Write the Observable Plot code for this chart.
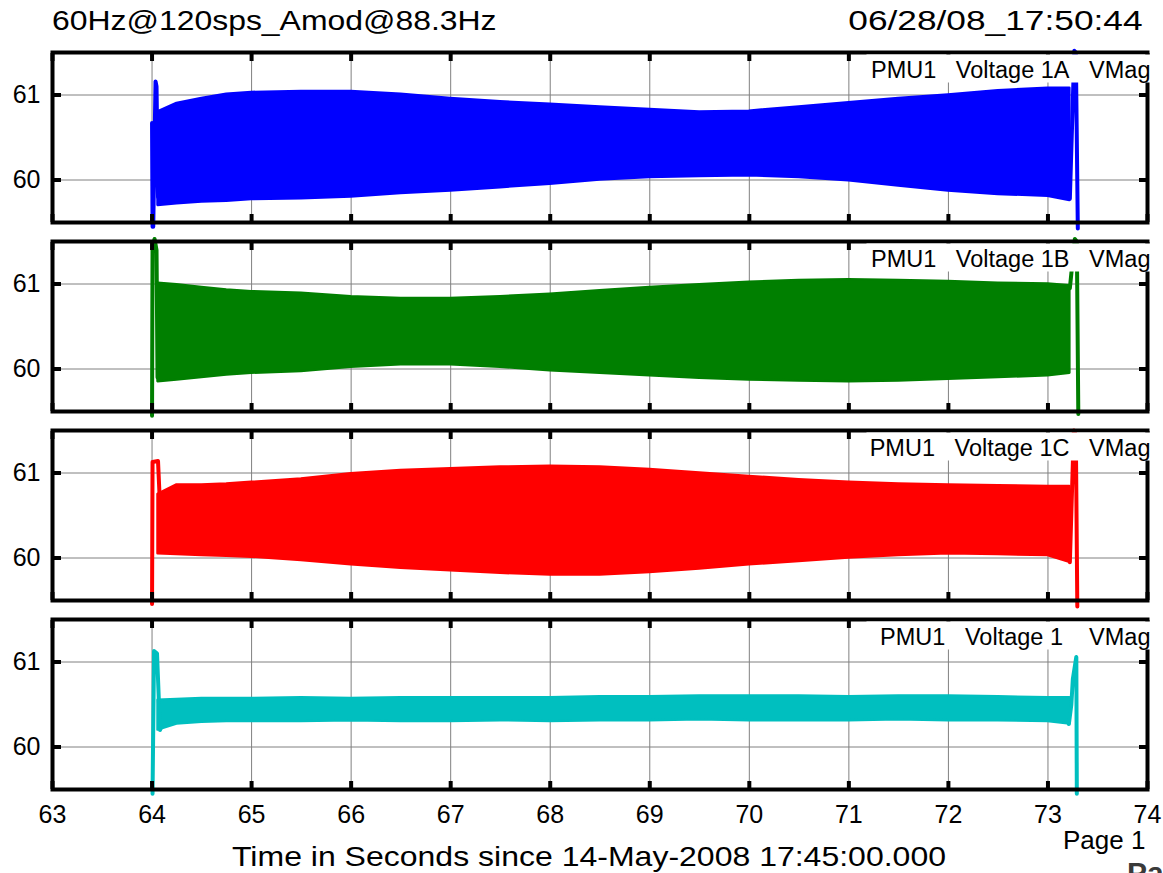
<!DOCTYPE html>
<html>
<head>
<meta charset="utf-8">
<script src="https://cdn.jsdelivr.net/npm/d3@7"></script>
<script src="https://cdn.jsdelivr.net/npm/@observablehq/plot@0.6"></script>
<style>
  html, body { margin: 0; padding: 0; background: #fff; overflow: hidden; }
  #wrap { position: relative; width: 1163px; height: 873px; font-family: "Liberation Sans", Arial, sans-serif; color: #000; }
  #wrap svg { position: absolute; left: 0; top: 0; }
  .t { position: absolute; white-space: pre; line-height: 1; }
</style>
</head>
<body>
<div id="wrap">
  <div class="t" id="title" style="left:52px; top:7px; font-size:28px; transform-origin:left top; transform:scaleX(1.14);"></div>
  <div class="t" id="stamp" style="right:20px; top:7px; font-size:28px; transform-origin:right top; transform:scaleX(1.26);"></div>
  <div class="t" id="xlabel" style="left:589px; top:843px; font-size:28px; transform:translateX(-50%) scaleX(1.143);"></div>
  <div class="t" id="page" style="left:1063px; top:827px; font-size:26px;"></div>
  <div class="t" id="logo" style="left:1127px; top:858px; font-size:30px; font-weight:bold; color:#3a3a3a;">Pa</div>
</div>
<script>
// ---- chart text ----
const titleText = "60Hz@120sps_Amod@88.3Hz";
const stampText = "06/28/08_17:50:44";
const xLabelText = "Time in Seconds since 14-May-2008 17:45:00.000";
const pageText = "Page 1";

// ---- panels ----
const channels = ["Voltage 1A", "Voltage 1B", "Voltage 1C", "Voltage 1"];
const pmuNames = ["PMU1", "PMU1", "PMU1", "PMU1"];
const units = ["VMag", "VMag", "VMag", "VMag"];
const colors = ["#0000ff", "#007f00", "#ff0000", "#00bfbf"];

// ---- axes ----
const xTicks = [63, 64, 65, 66, 67, 68, 69, 70, 71, 72, 73, 74];
const yTicks = [60, 61];

// ---- oscillation envelope (upper / lower) ----
const envT = [64.06, 64.25, 64.5, 64.75, 65, 65.5, 66, 66.5, 67, 67.5, 68, 68.5, 69, 69.5, 70, 70.5, 71, 71.5, 72, 72.5, 73, 73.22];
const hi1A = [60.80, 60.90, 60.96, 61.01, 61.03, 61.04, 61.04, 61.01, 60.96, 60.92, 60.89, 60.86, 60.83, 60.80, 60.81, 60.86, 60.91, 60.96, 61.00, 61.05, 61.08, 61.08];
const lo1A = [59.70, 59.72, 59.74, 59.75, 59.77, 59.78, 59.80, 59.84, 59.87, 59.91, 59.95, 60.00, 60.03, 60.04, 60.05, 60.03, 59.99, 59.93, 59.87, 59.83, 59.81, 59.76];
const hi1B = [61.01, 60.99, 60.96, 60.93, 60.91, 60.89, 60.85, 60.83, 60.83, 60.85, 60.88, 60.92, 60.96, 60.99, 61.02, 61.04, 61.05, 61.04, 61.03, 61.01, 61.00, 60.98];
const lo1B = [59.85, 59.87, 59.90, 59.93, 59.95, 59.97, 60.02, 60.05, 60.05, 60.02, 59.98, 59.95, 59.92, 59.89, 59.87, 59.86, 59.85, 59.86, 59.88, 59.90, 59.92, 59.95];
const hi1C = [60.75, 60.86, 60.86, 60.87, 60.89, 60.93, 60.99, 61.03, 61.05, 61.07, 61.08, 61.07, 61.04, 61.00, 60.96, 60.92, 60.89, 60.87, 60.86, 60.85, 60.84, 60.84];
const lo1C = [60.05, 60.04, 60.03, 60.02, 60.01, 59.97, 59.92, 59.88, 59.85, 59.82, 59.80, 59.80, 59.83, 59.87, 59.92, 59.96, 60.00, 60.03, 60.05, 60.04, 60.03, 59.95];
const hi1 = [60.55, 60.56, 60.57, 60.57, 60.57, 60.58, 60.57, 60.58, 60.58, 60.58, 60.58, 60.59, 60.59, 60.60, 60.60, 60.60, 60.59, 60.60, 60.60, 60.59, 60.58, 60.58];
const lo1 = [60.20, 60.27, 60.29, 60.30, 60.30, 60.30, 60.31, 60.30, 60.30, 60.31, 60.30, 60.31, 60.31, 60.32, 60.31, 60.31, 60.31, 60.32, 60.31, 60.31, 60.30, 60.27];

// ---- start / end transients ----
const startT1A = [64.00, 64.005, 64.012, 64.035, 64.045, 64.06];
const startV1A = [60.67, 59.45, 59.45, 61.16, 61.10, 59.80];
const endT1A = [73.22, 73.265, 73.28, 73.30];
const endV1A = [59.78, 61.52, 61.50, 59.43];
const startT1B = [64.00, 64.005, 64.025, 64.045, 64.055];
const startV1B = [59.45, 61.45, 61.53, 61.40, 59.90];
const endT1B = [73.22, 73.27, 73.29, 73.305];
const endV1B = [60.95, 61.53, 61.50, 59.47];
const startT1C = [64.00, 64.005, 64.06, 64.075];
const startV1C = [59.46, 61.13, 61.14, 60.75];
const endT1C = [73.22, 73.26, 73.28, 73.295];
const endV1C = [59.95, 61.50, 61.45, 59.43];
const startT1 = [64.005, 64.02, 64.05, 64.08, 64.10];
const startV1 = [59.45, 61.13, 61.10, 60.20, 60.26];
const endT1 = [73.21, 73.235, 73.25, 73.285, 73.29];
const endV1 = [60.27, 60.50, 60.80, 61.06, 59.45];

const his = [hi1A, hi1B, hi1C, hi1];
const los = [lo1A, lo1B, lo1C, lo1];
const starts = [[startT1A, startV1A], [startT1B, startV1B], [startT1C, startV1C], [startT1, startV1]];
const ends = [[endT1A, endV1A], [endT1B, endV1B], [endT1C, endV1C], [endT1, endV1]];

// ---- tables for Plot ----
const band = [];
channels.forEach((ch, i) => envT.forEach((t, j) => band.push({ch, t, hi: his[i][j], lo: los[i][j]})));
const trans = [];
channels.forEach((ch, i) => {
  starts[i][0].forEach((t, j) => trans.push({ch, seg: ch + "-s", t, v: starts[i][1][j]}));
  ends[i][0].forEach((t, j) => trans.push({ch, seg: ch + "-e", t, v: ends[i][1][j]}));
});
const labels = channels.map((ch, i) => ({
  ch,
  text: pmuNames[i] + "\u00a0\u00a0\u00a0" + ch.padEnd(10, "\u00a0") + "\u00a0\u00a0\u00a0" + units[i]
}));

const chart = Plot.plot({
  width: 1163,
  height: 873,
  marginLeft: 52,
  marginRight: 16,
  marginTop: 51,
  marginBottom: 82,
  style: {background: "transparent", fontFamily: "Liberation Sans, Arial, sans-serif", fontSize: "22px", color: "black"},
  x: {domain: [63, 74]},
  y: {domain: [59.5, 61.5]},
  fy: {domain: channels, paddingInner: 0.0984, paddingOuter: 0, axis: null, label: null},
  color: {domain: channels, range: colors},
  marks: [
    Plot.gridX(xTicks, {stroke: "#808080", strokeOpacity: 1, strokeWidth: 1}),
    Plot.gridY(yTicks, {stroke: "#808080", strokeOpacity: 1, strokeWidth: 1}),
    Plot.areaY(band, {x: "t", y1: "lo", y2: "hi", fy: "ch", fill: "ch", stroke: "ch", strokeWidth: 2.5, strokeLinejoin: "round"}),
    Plot.line(trans, {x: "t", y: "v", fy: "ch", z: "seg", stroke: "ch", strokeWidth: 4, strokeLinejoin: "round"}),
    Plot.frame({stroke: "black", strokeWidth: 4}),
    Plot.axisX(xTicks, {anchor: "bottom", tickSize: -8, strokeWidth: 4, tickFormat: () => "", facetAnchor: null, label: null}),
    Plot.axisX(xTicks, {anchor: "top", tickSize: -8, strokeWidth: 4, tickFormat: () => "", facetAnchor: null, label: null}),
    Plot.axisY(yTicks, {anchor: "left", tickSize: -9, strokeWidth: 4, tickFormat: () => "", facetAnchor: null, label: null}),
    Plot.axisY(yTicks, {anchor: "right", tickSize: -9, strokeWidth: 4, tickFormat: () => "", facetAnchor: null, label: null}),
    Plot.axisY(yTicks, {anchor: "left", tickSize: 0, tickPadding: 12, fontSize: 25, tickFormat: d => String(d), label: null}),
    Plot.axisX(xTicks, {anchor: "bottom", tickSize: 0, tickPadding: 16, fontSize: 25, tickFormat: d => String(d), label: null}),
    Plot.frame({fill: "white", stroke: null, insetLeft: 814, insetRight: -7, insetTop: 2, insetBottom: 140}),
    Plot.text(labels, {fy: "ch", text: "text", frameAnchor: "top-right", textAnchor: "end", lineAnchor: "top", dx: 3, dy: 9, fontSize: 23.5, fill: "black"})
  ]
});
document.getElementById("wrap").prepend(chart);
document.getElementById("title").textContent = titleText;
document.getElementById("stamp").textContent = stampText;
document.getElementById("xlabel").textContent = xLabelText;
document.getElementById("page").textContent = pageText;
</script>
</body>
</html>
